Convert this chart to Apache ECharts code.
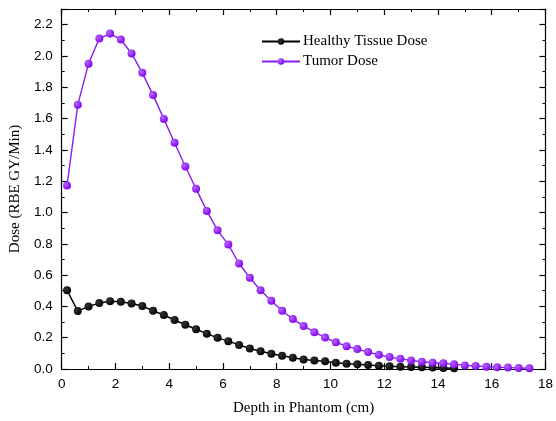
<!DOCTYPE html>
<html>
<head>
<meta charset="utf-8">
<script src="https://cdn.jsdelivr.net/npm/echarts@6/dist/echarts.min.js"></script>
<style>html,body{margin:0;padding:0;background:#fff;}#c{width:556px;height:421px;}</style>
</head>
<body>
<div id="c"></div>
<script>
var depth = [0.2,0.6,1.0,1.4,1.8,2.2,2.6,3.0,3.4,3.8,4.2,4.6,5.0,5.4,5.8,6.2,6.6,7.0,7.4,7.8,8.2,8.6,9.0,9.4,9.8,10.2,10.6,11.0,11.4,11.8,12.2,12.6,13.0,13.4,13.8,14.2,14.6,15.0,15.4,15.8,16.2,16.6,17.0,17.4];
var tumorDose = [1.173,1.689,1.951,2.111,2.143,2.105,2.016,1.892,1.750,1.598,1.446,1.294,1.151,1.010,0.886,0.795,0.674,0.583,0.503,0.436,0.372,0.319,0.275,0.235,0.201,0.171,0.146,0.127,0.108,0.091,0.076,0.065,0.055,0.046,0.040,0.036,0.030,0.023,0.019,0.015,0.011,0.009,0.007,0.005];
var healthyDose = [0.503,0.370,0.400,0.421,0.433,0.429,0.418,0.402,0.372,0.345,0.313,0.283,0.254,0.226,0.199,0.178,0.154,0.131,0.114,0.097,0.085,0.072,0.061,0.055,0.049,0.040,0.034,0.030,0.025,0.021,0.017,0.015,0.013,0.011,0.009,0.007,0.005];
var seriesNames = ['Healthy Tissue Dose','Tumor Dose'];

function pairs(xs, ys){ return ys.map(function(v,i){return [xs[i], v];}); }
function ball(c1, c2){
  return {type:'radial', x:0.35, y:0.35, r:0.7, colorStops:[{offset:0,color:c1},{offset:1,color:c2}]};
}
var axisCommon = {
  axisLine:{show:true, onZero:false, lineStyle:{color:'#000', width:1.2}},
  axisTick:{show:true, inside:true, length:6, lineStyle:{color:'#000', width:1.2}},
  minorTick:{show:true, splitNumber:2, length:3, lineStyle:{color:'#000', width:1}},
  splitLine:{show:false}
};
var chart = echarts.init(document.getElementById('c'), null, {renderer:'canvas'});
chart.setOption({
  backgroundColor:'#fff',
  animation:false,
  grid:{left:61, right:7, top:9, bottom:49, containLabel:false},
  legend:{
    left:256, top:29, orient:'vertical', itemWidth:38, itemHeight:8, itemGap:5,
    textStyle:{fontFamily:'Liberation Serif', fontSize:15, color:'#000', padding:[0,0,0,-2]},
    data:seriesNames
  },
  xAxis:[
    Object.assign({type:'value', min:0, max:18, interval:2, position:'bottom',
      name:'Depth in Phantom (cm)', nameLocation:'middle', nameGap:32,
      nameTextStyle:{fontFamily:'Liberation Serif', fontSize:15, color:'#000'},
      axisLabel:{fontFamily:'Liberation Sans', fontSize:13.5, color:'#000', margin:8}}, axisCommon),
    Object.assign({type:'value', min:0, max:18, interval:2, position:'top',
      axisLabel:{show:false}}, axisCommon)
  ],
  yAxis:[
    Object.assign({type:'value', min:0, max:2.3, interval:0.2, position:'left',
      name:'Dose (RBE GY/Min)', nameLocation:'middle', nameGap:37,
      nameTextStyle:{fontFamily:'Liberation Serif', fontSize:15, color:'#000'},
      axisLabel:{fontFamily:'Liberation Sans', fontSize:13.5, color:'#000', margin:9,
        formatter:function(v){ return v > 2.25 ? '' : v.toFixed(1); }}}, axisCommon),
    Object.assign({type:'value', min:0, max:2.3, interval:0.2, position:'right',
      axisLabel:{show:false}}, axisCommon)
  ],
  series:[
    {name:seriesNames[0], type:'line', xAxisIndex:0, yAxisIndex:0,
      data:pairs(depth, healthyDose), symbol:'circle', symbolSize:8,
      lineStyle:{color:'#000', width:1.5},
      itemStyle:{color:ball('#333','#000'), borderWidth:0},
      z:3},
    {name:seriesNames[1], type:'line', xAxisIndex:0, yAxisIndex:0,
      data:pairs(depth, tumorDose), symbol:'circle', symbolSize:8,
      lineStyle:{color:'#8a1ef0', width:1.4},
      itemStyle:{color:ball('#b468ff','#8000ee'), borderWidth:0},
      z:4}
  ]
});
</script>
</body>
</html>
